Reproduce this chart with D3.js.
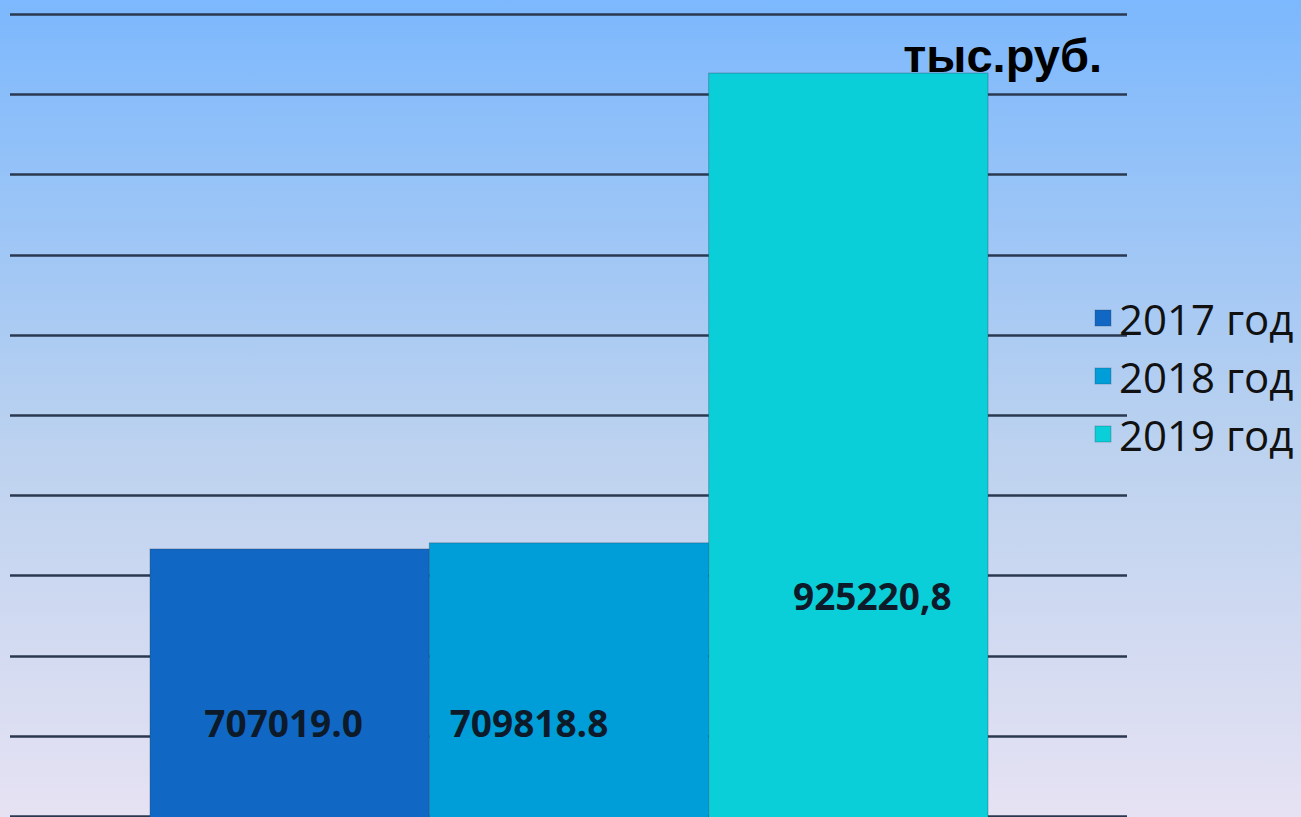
<!DOCTYPE html>
<html lang="ru">
  <head>
    <meta charset="utf-8">
    <title>тыс.руб.</title>
    <script type="text/javascript" src="https://cdn.jsdelivr.net/npm/d3@7"></script>
    <style type="text/css">
      body { margin: 0; padding: 0; overflow: hidden; }
    </style>
  </head>
  <body>
    <script type="text/javascript">

      //Width and height
      var w = 1301;
      var h = 817;

      //Data
      var years = ["2017 год", "2018 год", "2019 год"];
      var values = [707019.0, 709818.8, 925220.8];
      var valueLabels = ["707019.0", "709818.8", "925220,8"];
      var colors = ["#1068c4", "#009ed8", "#0bcfd8"];
      var unitLabel = "тыс.руб.";

      //Axis range (value axis does not start at zero)
      var yMin = 584600;
      var yMax = 952300;
      var gridCount = 10;

      var svg = d3.select("body")
                  .append("svg")
                  .attr("width", w)
                  .attr("height", h);

      //Background gradient
      var defs = svg.append("defs");
      var grad = defs.append("linearGradient")
                     .attr("id", "bg")
                     .attr("x1", 0).attr("y1", 0)
                     .attr("x2", 0).attr("y2", 1);
      grad.append("stop").attr("offset", "0%").attr("stop-color", "#7cb8fd");
      grad.append("stop").attr("offset", "55%").attr("stop-color", "#bcd2ef");
      grad.append("stop").attr("offset", "100%").attr("stop-color", "#e6e2f3");

      svg.append("rect")
         .attr("width", w)
         .attr("height", h)
         .attr("fill", "url(#bg)");

      //Scales
      var x = d3.scaleBand()
                .domain(years)
                .range([150, 988])
                .padding(0);

      var y = d3.scaleLinear()
                .domain([yMin, yMax])
                .range([816, 14]);

      //Gridlines
      var gridValues = d3.range(gridCount + 1).map(function(i) {
        return yMin + i * (yMax - yMin) / gridCount;
      });

      svg.append("g")
         .selectAll("line")
         .data(gridValues)
         .enter()
         .append("line")
         .attr("x1", 10)
         .attr("x2", 1127)
         .attr("y1", function(d) { return Math.round(y(d)) + 0.5; })
         .attr("y2", function(d) { return Math.round(y(d)) + 0.5; })
         .style("stroke", "#2a3850")
         .style("stroke-width", 2.4);

      //Bars
      svg.append("g")
         .selectAll("rect")
         .data(values)
         .enter()
         .append("rect")
         .attr("x", function(d, i) { return x(years[i]); })
         .attr("y", function(d) { return y(d); })
         .attr("width", x.bandwidth())
         .attr("height", function(d) { return h + 5 - y(d); })
         .style("fill", function(d, i) { return colors[i]; })
         .style("stroke", "rgba(40,60,90,0.35)")
         .style("stroke-width", 1);

      //Value labels (placed inside the bars as in the original slide)
      var labelDx = [-6, -40, 24];
      var labelY = [722, 722, 595];
      svg.append("g")
         .selectAll("text")
         .data(values)
         .enter()
         .append("text")
         .attr("x", function(d, i) { return x(years[i]) + x.bandwidth() / 2 + labelDx[i]; })
         .attr("y", function(d, i) { return labelY[i]; })
         .attr("text-anchor", "middle")
         .attr("dominant-baseline", "central")
         .style("font-family", "'Open Sans', sans-serif")
         .style("font-weight", "bold")
         .style("font-size", "37px")
         .style("fill", "#0d1a2a")
         .text(function(d, i) { return valueLabels[i]; });

      //Unit label
      svg.append("text")
         .attr("x", 1102)
         .attr("y", 72)
         .attr("text-anchor", "end")
         .style("font-family", "'Liberation Sans', Arial, sans-serif")
         .style("font-weight", "bold")
         .style("font-size", "47px")
         .style("fill", "#000")
         .text(unitLabel);

      //Legend
      var legend = svg.append("g")
                      .selectAll("g")
                      .data(years)
                      .enter()
                      .append("g")
                      .attr("transform", function(d, i) { return "translate(1095," + (318 + i * 58) + ")"; });

      legend.append("rect")
            .attr("x", 0)
            .attr("y", -8)
            .attr("width", 16)
            .attr("height", 16)
            .style("fill", function(d, i) { return colors[i]; })
            .style("stroke", "rgba(40,60,90,0.3)")
            .style("stroke-width", 1);

      legend.append("text")
            .attr("x", 24)
            .attr("y", 17)
            .style("font-family", "'Open Sans', sans-serif")
            .style("font-size", "42px")
            .style("fill", "#111")
            .text(function(d) { return d; });

    </script>
  </body>
</html>
